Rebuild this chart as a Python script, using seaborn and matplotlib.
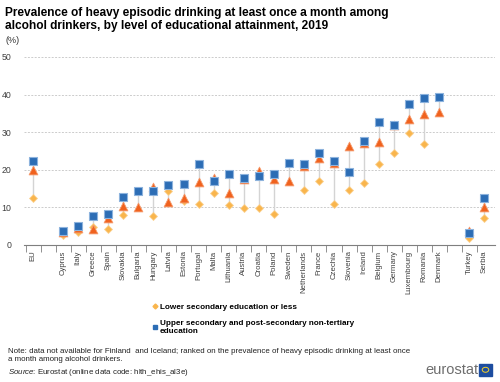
import numpy as np
import pandas as pd
import seaborn as sns
import matplotlib.pyplot as plt
from matplotlib.lines import Line2D
from matplotlib.patches import Rectangle, Circle

plt.rcParams['font.family'] = ['Liberation Sans', 'DejaVu Sans']
plt.rcParams['mathtext.fontset'] = 'custom'
plt.rcParams['mathtext.it'] = 'Liberation Sans:italic'

# data (%)
countries = ['EU', '', 'Cyprus', 'Italy', 'Greece', 'Spain', 'Slovakia', 'Bulgaria',
             'Hungary', 'Latvia', 'Estonia', 'Portugal', 'Malta', 'Lithuania', 'Austria',
             'Croatia', 'Poland', 'Sweden', 'Netherlands', 'France', 'Czechia', 'Slovenia',
             'Ireland', 'Belgium', 'Germany', 'Luxembourg', 'Romania', 'Denmark', ' ',
             'Turkey', 'Serbia']
lower_sec = [12.6, np.nan, 2.7, 3.5, 4.7, 4.2, 8.0, np.nan, 7.7, 14.2, 11.7, 10.9, 13.7,
             10.5, 9.9, 9.9, 8.3, np.nan, 14.7, 17.1, 11.0, 14.5, 16.5, 21.4, 24.5, 29.8,
             26.9, np.nan, np.nan, 1.9, 7.2]
upper_sec = [22.2, np.nan, 3.8, 5.1, 7.8, 8.3, 12.8, 14.4, 14.4, 15.8, 16.2, 21.6, 17.1,
             18.9, 17.7, 18.3, 18.9, 21.9, 21.6, 24.5, 22.3, 19.3, 27.5, 32.7, 31.9, 37.6,
             39.0, 39.3, np.nan, 3.2, 12.5]
tertiary = [20.0, np.nan, 3.3, 4.4, 4.3, 7.1, 10.4, 10.1, 15.5, 11.4, 12.4, 16.8, 17.8,
            13.7, 17.6, 19.6, 17.5, 17.1, 21.1, 23.1, 21.7, 26.2, 27.0, 27.3, 31.8, 33.4,
            34.8, 35.4, np.nan, 3.8, 10.0]

c_low = '#F9B54C'
c_up = '#2C6DB5'
c_ter = '#F0621E'

df = pd.DataFrame({'pos': np.arange(len(countries)), 'country': countries,
                   'low': lower_sec, 'up': upper_sec, 'ter': tertiary})

fig = plt.figure(figsize=(5, 3.82), dpi=100)
ax = fig.add_axes([0.048, 0.359, 0.942, 0.492])

# high-low lines
vals = df[['low', 'up', 'ter']]
ax.vlines(df['pos'], vals.min(axis=1), vals.max(axis=1), color='#D4D4D4', lw=1, zorder=1)

sns.scatterplot(data=df, x='pos', y='low', marker='D', s=16, color=c_low,
                edgecolor='#FBD08E', linewidth=0.6, ax=ax, zorder=3)
sns.scatterplot(data=df, x='pos', y='ter', marker='^', s=40, color=c_ter,
                edgecolor='#F5996B', linewidth=0.6, ax=ax, zorder=4)
sns.scatterplot(data=df, x='pos', y='up', marker='s', s=40, color=c_up,
                edgecolor='#8DB3DD', linewidth=0.8, ax=ax, zorder=5)

ax.set_xlim(-0.6, 30.7)
ax.set_ylim(0, 50)
ax.set_yticks([0, 10, 20, 30, 40, 50])
ax.yaxis.grid(True, color='#CCCCCC', linestyle=(0, (2, 1.5)), lw=0.7)
ax.set_axisbelow(True)
for s in ['top', 'right', 'left']:
    ax.spines[s].set_visible(False)
ax.spines['bottom'].set_color('#7F7F7F')
ax.tick_params(axis='y', length=0, labelsize=6.3, labelcolor='#404040', pad=9)
ax.set_xticks(df['pos'])
ax.set_xticklabels(countries, rotation=90, fontsize=5.6, color='#404040')
ax.tick_params(axis='x', length=0, pad=4)
ax.set_xticks(np.arange(-0.5, 30.5, 1), minor=True)
ax.tick_params(axis='x', which='minor', length=5, color='#7F7F7F')
ax.set_xlabel('')
ax.set_ylabel('')

fig.text(0.01, 0.982, 'Prevalence of heavy episodic drinking at least once a month among\n'
         'alcohol drinkers, by level of educational attainment, 2019',
         fontsize=8.6, fontweight='bold', va='top', linespacing=1.15)
fig.text(0.01, 0.905, '(%)', fontsize=6.5, va='top', color='#333333')

handles = [Line2D([], [], marker='D', ls='', color=c_low, markersize=2.5),
           Line2D([], [], marker='s', ls='', color=c_up, markersize=3.5)]
fig.legend(handles, ['Lower secondary education or less',
                     'Upper secondary and post-secondary non-tertiary\neducation'],
           loc='upper left', bbox_to_anchor=(0.302, 0.206), frameon=False,
           prop={'size': 5.9, 'weight': 'bold'}, handletextpad=0.1, handlelength=1,
           labelspacing=1.1, borderaxespad=0, borderpad=0)

fig.text(0.016, 0.09, 'Note: data not available for Finland  and Iceland; ranked on the prevalence '
         'of heavy episodic drinking at least once\na month among alcohol drinkers.',
         fontsize=5.7, va='top', color='#222222', linespacing=1.25)
fig.text(0.016, 0.01, r'$\it{Source}$: Eurostat (online data code: hlth_ehis_al3e)',
         fontsize=5.7, va='bottom', color='#222222')

fig.text(0.85, 0.012, 'eurostat', fontsize=10.5, color='#6E6E6E', va='bottom')
fig.add_artist(Rectangle((0.958, 0.016), 0.026, 0.032, transform=fig.transFigure,
                         color='#1D4DA0'))
fig.add_artist(Circle((0.971, 0.032), 0.0065, transform=fig.transFigure,
                      fill=False, ec='#F5D327', lw=0.7))

fig.savefig('out.png', dpi=100)
